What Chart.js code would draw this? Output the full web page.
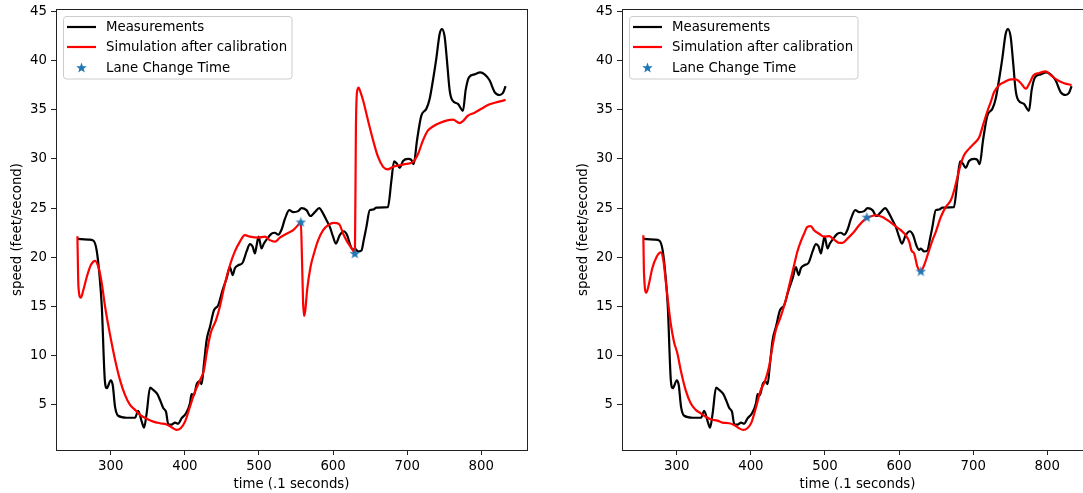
<!DOCTYPE html>
<html>
<head>
<meta charset="utf-8">
<script src="https://cdn.jsdelivr.net/npm/chart.js@4.4.0/dist/chart.umd.min.js"></script>
<style>
  html, body { margin: 0; padding: 0; overflow: hidden; background: #fff; width: 1083px; height: 493px; }
  .panel { position: absolute; top: 0; width: 540px; height: 493px; }
  #left { left: 0; }
  #right { left: 566px; }
</style>
</head>
<body>
<div class="panel" id="left"><canvas id="speedBefore" width="540" height="493"></canvas></div>
<div class="panel" id="right"><canvas id="speedAfter" width="540" height="493"></canvas></div>
<script>
// ── Data ──
const xTicks = [300, 400, 500, 600, 700, 800];
const yTicks = [5, 10, 15, 20, 25, 30, 35, 40, 45];

const measTime = [255, 260, 270, 276.6, 281, 285, 287.9, 292, 294.6, 300, 302.7, 305.8, 310, 321.5, 332.8, 337, 341.8, 345, 348.5, 353,
  357.5, 362.9, 366.5, 371, 374.6, 377.7, 382, 386.7, 391, 395.7, 401.5, 407, 409, 412.3, 415.9, 419.5, 422.6, 425.8, 429.4, 433.9,
  439.2, 445, 451, 456.3, 460.8, 464.4, 467.5, 472, 477.9, 483.3, 487.8, 491.4, 494.5, 496.8, 499.5, 503.5, 506.6, 510.2, 517, 521.5,
  526, 530.4, 535, 540.8, 546.2, 552.9, 557.4, 564.1, 569.5, 575.4, 581.2, 586.6, 591, 595.6, 600, 603.7, 609, 614.5, 619, 623.4,
  627, 629.3, 633.8, 638.3, 641.4, 645, 649.5, 654, 658.5, 674, 678.7, 682.3, 686.3, 690, 694.4, 701.2, 705.6, 708.8, 713.3, 719.1,
  725.9, 730.3, 734.8, 739.3, 743.8, 747, 750.6, 753.7, 757.3, 760.9, 768.5, 775.3, 778.9, 783.4, 791, 798.6, 804.5, 811.2, 818, 824.7,
  829.2, 832.8];
const measSpeed = [21.9, 21.85, 21.8, 21.7, 20.7, 18.0, 15.0, 7.5, 6.7, 7.5, 7.0, 4.8, 3.9, 3.7, 3.7, 4.4, 3.3, 2.7, 4.2, 6.75,
  6.5, 6.1, 5.5, 4.66, 4.3, 3.0, 3.0, 3.2, 3.1, 3.65, 4.15, 5.2, 6.1, 6.0, 7.1, 7.4, 7.1, 9.2, 11.6, 12.95,
  14.6, 15.15, 16.7, 17.85, 19.0, 18.2, 18.9, 19.2, 19.45, 20.6, 21.35, 21.1, 20.4, 21.2, 22.1, 20.9, 21.4, 21.8, 22.4, 22.5,
  22.3, 22.8, 23.9, 24.8, 24.6, 24.7, 25.0, 24.8, 24.2, 24.6, 25.0, 24.45, 23.8, 23.1, 22.1, 21.4, 22.25, 22.65, 22.25, 21.2,
  20.75, 20.9, 20.6, 20.7, 21.75, 23.1, 24.8, 24.86, 25.06, 25.1, 27.8, 29.76, 29.5, 29.1, 29.8, 30.0, 29.9, 29.46, 31.9, 34.4,
  35.1, 36.1, 38.0, 40.2, 42.7, 43.2, 42.4, 40.0, 37.0, 35.96, 35.6, 34.9, 37.0, 38.3, 38.6, 38.8, 38.6, 38.0, 36.8, 36.5,
  36.7, 37.4];

// simulation, left panel
const simTimeA = [255, 256.4, 259.6, 263.1, 267.6, 273, 278.9, 283.4, 287.9, 292.3, 299.1, 305.8, 312.6, 319.3, 326, 332.8, 339.5, 348.5,
  357.5, 366.5, 374.6, 382.2, 388.9, 394.3, 400.2, 406.9, 413.6, 420.4, 425.8, 429.4, 434.8, 441.9, 447.3, 454.1, 460.8, 467.5, 474.3,
  481, 487.8, 499, 508, 514.7, 521.5, 528.2, 537.2, 546.2, 552.9, 556.5, 558, 559.5, 561, 562.5, 565, 569.5, 575.4, 579.9, 586.6,
  593.3, 601, 608.2, 613.6, 619, 623.4, 627, 629.5, 630.8, 632.3, 634.6, 637, 640.5, 647.2, 654, 660.7, 667.5, 674, 680.9, 690,
  698.9, 707.9, 714.6, 721.4, 728.1, 734.8, 743.8, 752.8, 761.8, 770.8, 775.3, 782, 791, 800, 811.2, 822.5, 832.8];
const simSpeedA = [22.15, 17.0, 15.9, 16.7, 18.0, 19.2, 19.65, 19.0, 17.35, 15.0, 12.1, 9.6, 7.5, 6.0, 5.0, 4.5, 4.0, 3.6,
  3.3, 3.14, 3.04, 2.73, 2.46, 2.63, 3.3, 4.83, 6.35, 7.5, 8.55, 10.25, 12.3, 13.6, 15.0, 17.35, 19.2, 20.6, 21.6,
  22.25, 22.1, 22.0, 22.1, 21.75, 21.6, 22.0, 22.4, 22.76, 23.3, 23.6, 20.0, 15.5, 14.05, 14.6, 16.7, 19.0, 20.7, 21.75, 22.76,
  23.27, 23.5, 23.37, 22.4, 21.6, 21.1, 20.7, 20.4, 33.0, 36.8, 37.24, 36.8, 35.96, 33.9, 31.9, 30.2, 29.2, 28.95, 29.2, 29.36,
  29.5, 29.7, 30.5, 31.9, 32.9, 33.3, 33.65, 33.9, 34.0, 33.65, 33.86, 34.4, 34.7, 35.1, 35.55, 35.8, 36.0];

// simulation, right panel
const simTimeB = [254.9, 255.8, 259, 262.6, 267, 272.9, 278.3, 281.9, 286.4, 291.8, 296.3, 300.8, 305.3, 312, 318.8, 325.6, 332.3, 339.1,
  345.8, 354.8, 361.6, 370.6, 377.3, 384.1, 389.9, 395.3, 400.7, 406.6, 413.3, 418.7, 424.6, 429.1, 433.6, 440.3, 447.1, 452.9, 458.3,
  462.8, 467.3, 471.8, 476.3, 480.8, 485.3, 492.1, 498.8, 505.6, 512.3, 519.1, 523.6, 530.3, 539.3, 546.1, 552.8, 559.6, 568.6, 577.6,
  584.3, 593.3, 602.3, 609.1, 613.6, 616.7, 620.3, 624.8, 629.3, 633.8, 639.2, 645.1, 649.6, 656.3, 663.1, 669.8, 674.3, 678.8, 683.3,
  687.8, 694.6, 701.3, 708.1, 713.9, 719.4, 723.8, 728.3, 735.1, 741.8, 750.8, 757.6, 764.4, 771.1, 775.6, 781.5, 789.1, 798.1, 804.9,
  813.9, 822.9, 832.8];
const simSpeedB = [22.25, 18.4, 16.4, 17.35, 18.9, 20.06, 20.5, 19.7, 16.7, 13.3, 11.4, 10.25, 8.55, 6.5, 5.17, 4.5, 4.15, 3.8,
  3.54, 3.4, 3.2, 3.14, 2.97, 2.63, 2.46, 2.63, 3.2, 4.66, 6.5, 7.35, 8.9, 10.9, 12.6, 13.97, 15.66, 17.5, 19.2,
  20.6, 21.6, 22.4, 23.1, 23.17, 22.76, 22.4, 22.1, 22.15, 21.8, 21.47, 21.47, 21.9, 22.6, 23.27, 23.78, 24.1, 24.28, 24.1,
  23.78, 23.27, 22.76, 22.25, 21.6, 20.7, 20.4, 19.04, 18.6, 19.2, 20.4, 21.75, 22.6, 24.1, 25.13, 25.8, 26.8, 28.17, 29.5,
  30.4, 31.05, 31.56, 32.2, 33.6, 34.9, 35.8, 36.8, 37.5, 37.8, 38.09, 38.09, 37.7, 37.14, 37.65, 38.5, 38.73, 38.9, 38.5,
  38.0, 37.7, 37.5];

const laneTime = [556.5, 629.4];
const laneSpeedA = [23.6, 20.4];
const laneSpeedB = [24.1, 18.6];

// ── Axis limits (matplotlib-style 5% margins) ──
const X_MIN = 226.1, X_MAX = 861.7;
const Y_MIN = 0.42, Y_MAX = 45.24;

const FONT = { family: 'DejaVu Sans', size: 13.3 };

// filled 5-point star like matplotlib '*'
function starImage(size, color) {
  const c = document.createElement('canvas');
  c.width = c.height = size;
  const g = c.getContext('2d');
  const cx = size / 2, cy = size / 2 + 0.5, R = size / 2, r = R * 0.42;
  g.beginPath();
  for (let k = 0; k < 10; k++) {
    const ang = -Math.PI / 2 + k * Math.PI / 5;
    const rad = k % 2 ? r : R;
    g.lineTo(cx + rad * Math.cos(ang), cy + rad * Math.sin(ang));
  }
  g.closePath();
  g.fillStyle = color;
  g.fill();
  return c;
}
const STAR = starImage(11, '#1f77b4');

const framePlugin = {
  id: 'frame',
  afterDatasetsDraw(chart) {
    const { ctx, chartArea: a } = chart;
    ctx.save();
    ctx.strokeStyle = '#222';
    ctx.lineWidth = 1;
    ctx.strokeRect(a.left + 0.5, a.top + 0.5, a.right - a.left, a.bottom - a.top);
    ctx.restore();
  },
};

const legendPlugin = {
  id: 'boxLegend',
  afterDraw(chart) {
    const { ctx, chartArea: a } = chart;
    const x0 = a.left + 7, y0 = a.top + 7, w = 229, h = 63, rad = 3;
    ctx.save();
    ctx.beginPath();
    ctx.moveTo(x0 + rad, y0 + 0.5);
    ctx.arcTo(x0 + w, y0 + 0.5, x0 + w, y0 + h, rad);
    ctx.arcTo(x0 + w, y0 + h, x0, y0 + h, rad);
    ctx.arcTo(x0 + 0.5, y0 + h, x0 + 0.5, y0, rad);
    ctx.arcTo(x0 + 0.5, y0 + 0.5, x0 + w, y0 + 0.5, rad);
    ctx.closePath();
    ctx.fillStyle = 'rgba(255,255,255,0.8)';
    ctx.fill();
    ctx.strokeStyle = '#cccccc';
    ctx.lineWidth = 1;
    ctx.stroke();

    ctx.font = '13.3px "DejaVu Sans"';
    ctx.textBaseline = 'middle';
    ctx.fillStyle = '#000';
    const rows = [11, 31, 51.5];
    chart.data.datasets.forEach((ds, i) => {
      const y = y0 + rows[i];
      if (ds.showLine === false) {
        ctx.drawImage(STAR, x0 + 18.5 - STAR.width / 2, y - STAR.height / 2);
      } else {
        ctx.beginPath();
        ctx.moveTo(x0 + 4, y);
        ctx.lineTo(x0 + 33, y);
        ctx.strokeStyle = ds.borderColor;
        ctx.lineWidth = 2.2;
        ctx.stroke();
      }
      ctx.fillText(ds.label, x0 + 43, y + 1);
    });
    ctx.restore();
  },
};

function toPoints(xs, ys) {
  return xs.map((x, i) => ({ x, y: ys[i] }));
}

function makeChart(canvasId, simTime, simSpeed, laneSpeed) {
  const ctx = document.getElementById(canvasId);
  if (!ctx) return;

  new Chart(ctx, {
    type: 'line',
    data: {
      datasets: [
        {
          label: 'Measurements',
          data: toPoints(measTime, measSpeed),
          borderColor: '#000000',
          borderWidth: 2.2,
          pointRadius: 0,
          cubicInterpolationMode: 'monotone',
          order: 2,
        },
        {
          label: 'Simulation after calibration',
          data: toPoints(simTime, simSpeed),
          borderColor: '#ff0000',
          borderWidth: 2.2,
          pointRadius: 0,
          cubicInterpolationMode: 'monotone',
          order: 1,
        },
        {
          label: 'Lane Change Time',
          data: toPoints(laneTime, laneSpeed),
          showLine: false,
          pointStyle: STAR,
          pointRadius: 5.5,
          order: 0,
        },
      ],
    },
    options: {
      responsive: false,
      animation: false,
      events: [],
      layout: { padding: { top: 9, right: 13, left: 0, bottom: 0 } },
      plugins: {
        legend: { display: false },
        tooltip: { enabled: false },
      },
      scales: {
        x: {
          type: 'linear',
          min: X_MIN,
          max: X_MAX,
          afterBuildTicks: s => { s.ticks = xTicks.map(v => ({ value: v })); },
          afterFit: s => { s.height = 43; s.paddingLeft = 0; s.paddingRight = 0; },
          grid: { drawOnChartArea: false, tickLength: 5, tickColor: '#222', tickWidth: 1 },
          border: { display: false },
          ticks: { color: '#000', font: FONT, padding: 4, maxRotation: 0, callback: v => String(v) },
          title: { display: true, text: 'time (.1 seconds)', color: '#000', font: FONT, padding: { top: 0, bottom: 0 } },
        },
        y: {
          type: 'linear',
          min: Y_MIN,
          max: Y_MAX,
          afterBuildTicks: s => { s.ticks = yTicks.map(v => ({ value: v })); },
          afterFit: s => { s.width = 56; s.paddingTop = 0; s.paddingBottom = 0; },
          grid: { drawOnChartArea: false, tickLength: 5, tickColor: '#222', tickWidth: 1 },
          border: { display: false },
          ticks: { color: '#000', font: FONT, padding: 4, callback: v => String(v) },
          title: { display: true, text: 'speed (feet/second)', color: '#000', font: FONT, padding: { top: 10, bottom: 0 } },
        },
      },
    },
    plugins: [framePlugin, legendPlugin],
  });
}

makeChart('speedBefore', simTimeA, simSpeedA, laneSpeedA);
makeChart('speedAfter', simTimeB, simSpeedB, laneSpeedB);
</script>
</body>
</html>
